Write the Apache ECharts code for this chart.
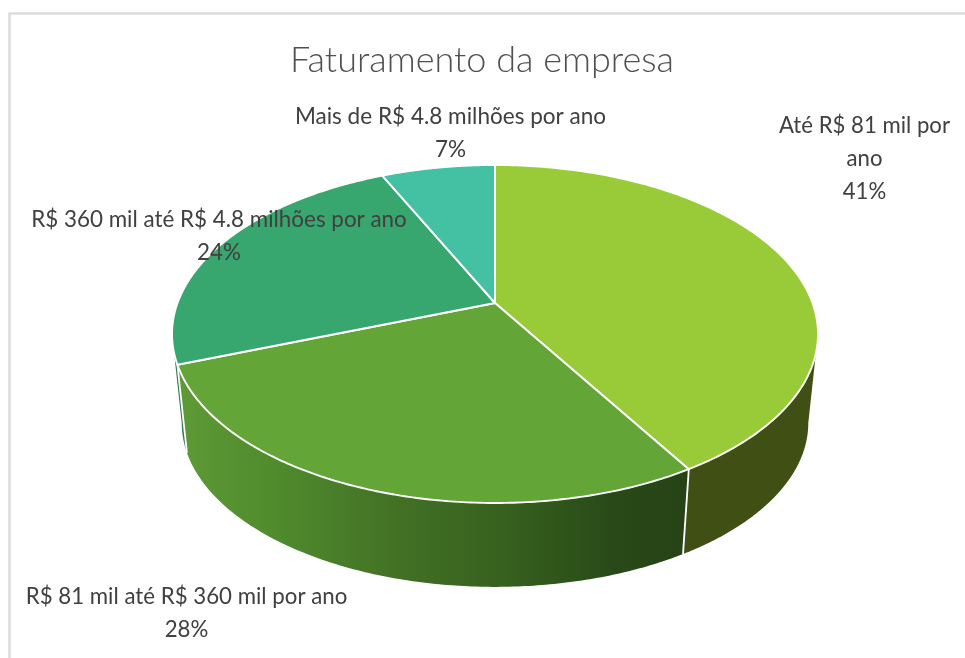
<!DOCTYPE html>
<html>
<head>
<meta charset="utf-8">
<style>html,body{margin:0;padding:0;background:#fff}#c{width:965px;height:658px}</style>
<script src="https://cdn.jsdelivr.net/npm/echarts@6/dist/echarts.min.js"></script>
</head>
<body>
<div id="c"></div>
<script>
const categories = [
  "Até R$ 81 mil por ano",
  "R$ 81 mil até R$ 360 mil por ano",
  "R$ 360 mil até R$ 4.8 milhões por ano",
  "Mais de R$ 4.8 milhões por ano"
];
const shares = [41.4, 27.85, 23.95, 6.8];
const chartTitle = "Faturamento da empresa";

const topColors = ["#99CB38", "#63A537", "#37A76F", "#44C1A3"];
const wallColors = ["#405015", null, "#2F7D50", "#2E8A72"];
const labelLines = [["Até R$ 81 mil por", "ano"], ["R$ 81 mil até R$ 360 mil por ano"], ["R$ 360 mil até R$ 4.8 milhões por ano"], ["Mais de R$ 4.8 milhões por ano"]];
const labelCenters = [[864.5, 126], [186.5, 597], [219, 219.5], [450.5, 116.5]];
const labelScaleX = [0.964, 0.968, 0.974, 0.98];

// Perspective projection of the pie disc
const CX = 495, APEX_Y = 303, A = 317.5, B = 163.3, K = -0.1834;
const VY = 3300, DEPTH_SCALE = 0.97;

function topPoint(frac) {
  const t = frac * 2 * Math.PI, x = Math.sin(t), y = -Math.cos(t), w = 1 + K * y;
  return [CX + A * x / w, APEX_Y + B * y / w];
}
function lowPoint(frac) {
  const p = topPoint(frac);
  return [CX + DEPTH_SCALE * (p[0] - CX), VY + DEPTH_SCALE * (p[1] - VY)];
}
const total = shares.reduce((a, b) => a + b, 0);
function sliceRange(i) {
  let s = 0;
  for (let k = 0; k < i; k++) s += shares[k];
  return [s / total, (s + shares[i]) / total];
}
function arc(fn, f0, f1) {
  const n = 160, pts = [];
  for (let i = 0; i <= n; i++) pts.push(fn(f0 + (f1 - f0) * i / n));
  return pts;
}
// Fractions of the rim where the wall's silhouette leaves the disc
let frontStart = 0, frontEnd = 0;
for (let i = 0, maxX = -Infinity, minX = Infinity; i <= 2000; i++) {
  const x = topPoint(i / 2000)[0];
  if (x > maxX) { maxX = x; frontStart = i / 2000; }
  if (x < minX) { minX = x; frontEnd = i / 2000; }
}

const chart = echarts.init(document.getElementById('c'), null, {renderer: 'canvas'});
const seriesData = shares.map((v, i) => ({name: categories[i], value: [v, i]}));

function renderWall(params, api) {
  const i = api.value(1), r = sliceRange(i);
  const f0 = Math.max(r[0], frontStart), f1 = Math.min(r[1], frontEnd);
  if (f1 <= f0) return {type: 'group', children: []};
  const pts = arc(topPoint, f0, f1).concat(arc(lowPoint, f0, f1).reverse());
  let fill = wallColors[i];
  if (!fill) {
    const a = topPoint(r[1])[0], b = topPoint(r[0])[0];
    fill = new echarts.graphic.LinearGradient(a, 0, b, 0, [
      {offset: 0, color: '#5E9A35'},
      {offset: 0.2, color: '#4F8A2D'},
      {offset: 0.45, color: '#416F24'},
      {offset: 0.65, color: '#36601E'},
      {offset: 0.85, color: '#294A18'},
      {offset: 1, color: '#264216'}
    ], true);
  }
  const children = [{type: 'polygon', shape: {points: pts}, style: {fill: fill}}];
  if (r[0] >= frontStart) {
    const p = topPoint(r[0]), q = lowPoint(r[0]);
    children.push({type: 'line', shape: {x1: p[0], y1: p[1], x2: q[0], y2: q[1]},
      style: {stroke: '#fff', lineWidth: 1.8}});
  }
  return {type: 'group', children: children};
}
function renderTop(params, api) {
  const i = api.value(1), r = sliceRange(i);
  const pts = [[CX, APEX_Y]].concat(arc(topPoint, r[0], r[1]));
  return {type: 'polygon', shape: {points: pts},
    style: {fill: topColors[i], stroke: '#fff', lineWidth: 1.9, lineJoin: 'round'}};
}
function renderLabel(params, api) {
  const i = api.value(1), c = labelCenters[i];
  const lines = labelLines[i].concat([Math.round(api.value(0)) + '%']);
  return {type: 'group', children: lines.map((t, k) => ({
    type: 'text', x: c[0], y: c[1] + k * 33, scaleX: labelScaleX[i], scaleY: 1,
    style: {text: t, fill: '#404040', font: '400 23px Lato', align: 'center', verticalAlign: 'middle'}
  }))};
}

chart.setOption({
  animation: false,
  backgroundColor: '#ffffff',
  title: {
    text: chartTitle, left: 477, top: 37, textAlign: 'center',
    textStyle: {color: '#505050', fontFamily: 'Lato', fontWeight: 300, fontSize: 36, letterSpacing: 3}
  },
  graphic: [{
    type: 'polyline', silent: true, z: 0,
    shape: {points: [[9.5, 658], [9.5, 13.5], [965, 13.5]]},
    style: {stroke: '#DCDCDC', lineWidth: 2.5, fill: null}
  }],
  series: [
    {type: 'custom', coordinateSystem: 'none', renderItem: renderWall, data: seriesData, z: 2, silent: true},
    {type: 'custom', coordinateSystem: 'none', renderItem: renderTop, data: seriesData, z: 3, silent: true},
    {type: 'custom', coordinateSystem: 'none', renderItem: renderLabel, data: seriesData, z: 4, silent: true}
  ]
});
</script>
</body>
</html>
